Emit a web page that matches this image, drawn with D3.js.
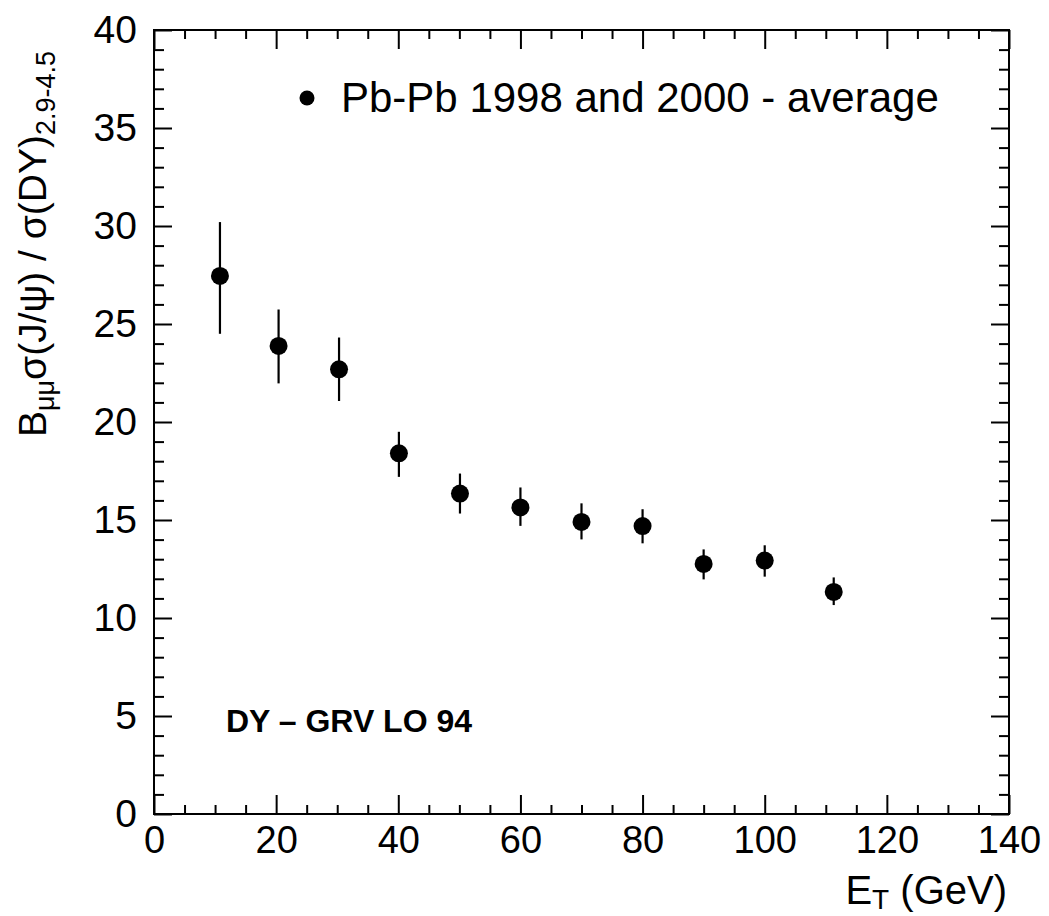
<!DOCTYPE html>
<html><head><meta charset="utf-8">
<script src="https://cdn.jsdelivr.net/npm/d3@7"></script>
<style>
body{margin:0;background:#fff;}
text{font-family:"Liberation Sans",Arial,sans-serif;fill:#000;}
</style></head>
<body>
<svg id="c" width="1049" height="916"></svg>
<script>
const etValues   = [10.8, 20.4, 30.3, 40.1, 50.1, 60.0, 70.0, 80.0, 90.0, 100.0, 111.3];
const ratioValues= [27.45, 23.88, 22.69, 18.40, 16.35, 15.64, 14.90, 14.69, 12.76, 12.93, 11.33];
const errUp      = [2.75, 1.86, 1.62, 1.10, 1.02, 1.02, 0.95, 0.86, 0.74, 0.78, 0.74];
const errDown    = [2.95, 1.91, 1.62, 1.20, 1.02, 0.94, 0.89, 0.88, 0.79, 0.82, 0.67];
const xMajorTicks = [0, 20, 40, 60, 80, 100, 120, 140];
const yMajorTicks = [0, 5, 10, 15, 20, 25, 30, 35, 40];
const legendLabel = "Pb-Pb 1998 and 2000 - average";
const noteLabel = "DY \u2013 GRV LO 94";

const L=154, R=1009, T=30, B=814;
const svg=d3.select("#c");
const x=d3.scaleLinear().domain([0,140]).range([L,R]);
const y=d3.scaleLinear().domain([0,40]).range([B,T]);
const xMinor=d3.range(0,141,5).filter(v=>v%20!==0);
const yMinor=d3.range(0,41,1).filter(v=>v%5!==0);

function style(g){g.selectAll("path").remove();g.selectAll("line").attr("stroke","#000").attr("stroke-width",2);}

svg.append("g").attr("transform",`translate(0,${B})`)
  .call(d3.axisBottom(x).tickValues(xMajorTicks).tickSize(-19).tickPadding(12).tickFormat(d3.format("d")))
  .call(style).selectAll("text").attr("font-size",38).attr("font-family","Liberation Sans, Arial");
svg.append("g").attr("transform",`translate(0,${B})`)
  .call(d3.axisBottom(x).tickValues(xMinor).tickSize(-9).tickFormat("")).call(style);
svg.append("g").attr("transform",`translate(0,${T})`)
  .call(d3.axisTop(x).tickValues(xMajorTicks).tickSize(-19).tickFormat("")).call(style);
svg.append("g").attr("transform",`translate(0,${T})`)
  .call(d3.axisTop(x).tickValues(xMinor).tickSize(-9).tickFormat("")).call(style);

svg.append("g").attr("transform",`translate(${L},0)`)
  .call(d3.axisLeft(y).tickValues(yMajorTicks).tickSize(-18).tickPadding(17).tickFormat(d3.format("d")))
  .call(style).selectAll("text").attr("font-size",39).attr("font-family","Liberation Sans, Arial");
svg.append("g").attr("transform",`translate(${L},0)`)
  .call(d3.axisLeft(y).tickValues(yMinor).tickSize(-10).tickFormat("")).call(style);
svg.append("g").attr("transform",`translate(${R},0)`)
  .call(d3.axisRight(y).tickValues(yMajorTicks).tickSize(-18).tickFormat("")).call(style);
svg.append("g").attr("transform",`translate(${R},0)`)
  .call(d3.axisRight(y).tickValues(yMinor).tickSize(-10).tickFormat("")).call(style);

svg.append("rect").attr("x",L).attr("y",T).attr("width",R-L).attr("height",B-T)
  .attr("fill","none").attr("stroke","#000").attr("stroke-width",2);

const data=etValues.map((e,i)=>({e,v:ratioValues[i],up:errUp[i],dn:errDown[i]}));
svg.append("g").selectAll("line").data(data).join("line")
  .attr("x1",d=>x(d.e)).attr("x2",d=>x(d.e))
  .attr("y1",d=>y(d.v+d.up)).attr("y2",d=>y(d.v-d.dn))
  .attr("stroke","#000").attr("stroke-width",2.2);
svg.append("g").selectAll("circle").data(data).join("circle")
  .attr("cx",d=>x(d.e)).attr("cy",d=>y(d.v)).attr("r",9).attr("fill","#000");

// legend
svg.append("circle").attr("cx",307).attr("cy",98).attr("r",7.5).attr("fill","#000");
svg.append("text").attr("x",341).attr("y",112).attr("font-size",42).text(legendLabel);

// note
svg.append("text").attr("x",226).attr("y",732).attr("font-size",32).attr("font-weight","bold").text(noteLabel);

// x title
const xt=svg.append("text").attr("x",1007).attr("y",904).attr("text-anchor","end").attr("font-size",40);
xt.append("tspan").text("E");
xt.append("tspan").attr("font-size",28).attr("dy",5).text("T");
xt.append("tspan").attr("dy",-5).text(" (GeV)");

// y title
const yt=svg.append("text").attr("transform","translate(46,244) rotate(-90)").attr("text-anchor","middle").attr("font-size",39);
yt.append("tspan").text("B");
yt.append("tspan").attr("font-size",27).attr("dy",8).text("\u03bc\u03bc");
yt.append("tspan").attr("dy",-8).text("\u03c3(J/\u03c8) / \u03c3(DY)");
yt.append("tspan").attr("font-size",27).attr("dy",9).text("2.9-4.5");
</script>
</body></html>
